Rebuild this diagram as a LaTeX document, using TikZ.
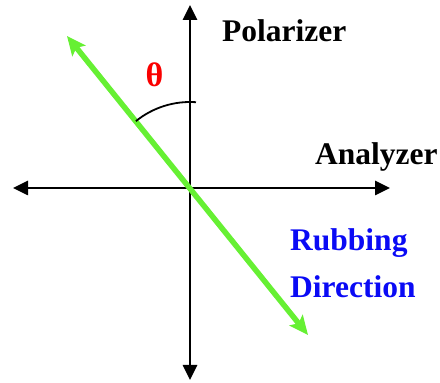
\documentclass[tikz,border=0pt]{standalone}
\usepackage{fontspec}
\setmainfont{Liberation Serif}
\usetikzlibrary{arrows.meta}
\definecolor{rubgreen}{RGB}{102,240,51}
\definecolor{rubblue}{RGB}{10,10,245}
\definecolor{thetared}{RGB}{250,0,0}
\tikzset{
  axis/.style={line width=2.6pt,-{Triangle[length=15pt,width=14pt]}},
  rub/.style={line width=5.5pt,rubgreen,{Stealth[length=19pt,width=17pt,inset=4pt]}-{Stealth[length=19pt,width=17pt,inset=4pt]}},
  lbl/.style={anchor=base west,inner sep=0pt,font=\fontsize{31.5}{34}\selectfont\bfseries}
}
\begin{document}
\begin{tikzpicture}[x=1pt,y=1pt]
\useasboundingbox (0,0) rectangle (440,383);
\coordinate (O) at (190,195);
\coordinate (T) at (190,378);
\coordinate (B) at (190,3);
\coordinate (L) at (13,195);
\coordinate (R) at (390,195);
\coordinate (G1) at (67,347);
\coordinate (G2) at (308,48);
\draw[axis] (O) -- (T);
\draw[axis] (O) -- (B);
\draw[axis] (O) -- (L);
\draw[axis] (O) -- (R);
\draw[rub] (G1) -- (G2);
\draw[line width=1.8pt] (O) ++(129:86) arc (129:86:86);
\node[lbl] (pol) at (222,341) {Polarizer};
\node[lbl] (ana) at (315,218) {Analyzer};
\node[lbl,text=rubblue] (rub1) at (290,132) {Rubbing};
\node[lbl,text=rubblue] (rub2) at (290,85) {Direction};
\node[inner sep=0pt,text=thetared,font=\fontsize{34}{36}\selectfont\bfseries] (theta) at (154.5,308) {θ};
\end{tikzpicture}
\end{document}
